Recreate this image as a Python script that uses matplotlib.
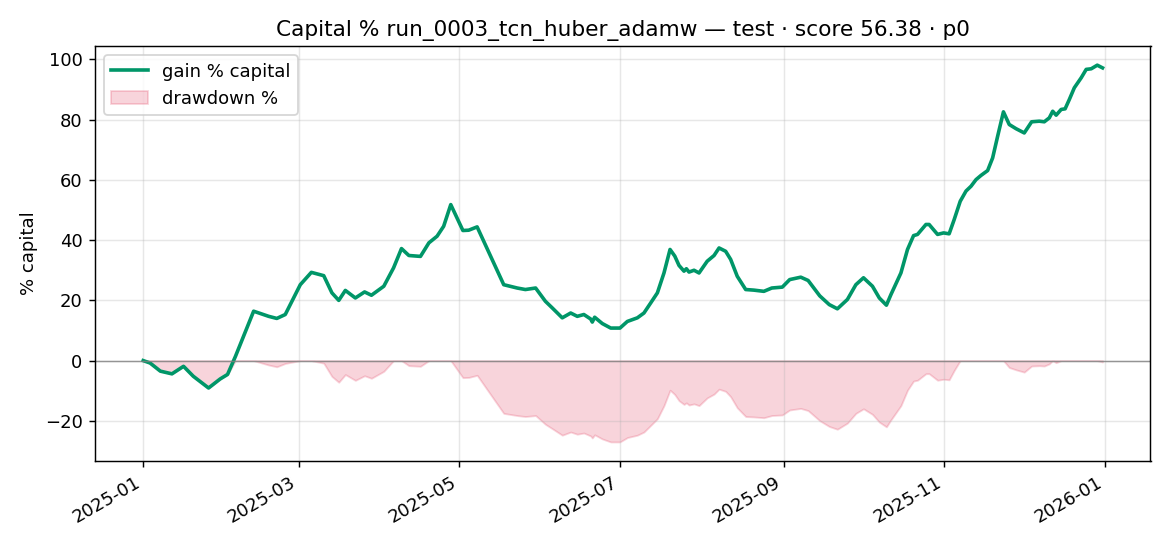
import matplotlib
matplotlib.use("Agg")
import matplotlib.pyplot as plt
import matplotlib.dates as mdates
import numpy as np
import pandas as pd

# days since 2025-01-01 and gain %
days = [0, 2.6, 6.5, 10.9, 15.3, 19, 24.8, 29.2, 32, 35, 41.9, 47.6, 50.7, 53.9,
        59.6, 63.8, 68.5, 71.6, 74.2, 76.7, 80.5, 84, 86.6, 91.3, 95, 98, 100.8,
        105.2, 108.4, 111.5, 114, 116.7, 121.3, 123.5, 126.7, 131.8, 136.8, 141.9,
        145, 148.9, 152.6, 155.2, 159, 162.2, 164.7, 167.2, 169.8, 170.4, 171.3,
        174.2, 177.4, 180.9, 183.7, 187.5, 190, 192.6, 195.1, 197.6, 199.9, 201.7,
        203.3, 205.2, 206.1, 207.1, 209, 210.9, 214, 216.6, 218.5, 221, 222.9,
        225.4, 228.6, 231.7, 235.5, 238.5, 242.5, 245.3, 249.5, 252.3, 256.7,
        260.3, 263.4, 267.2, 270.4, 273.3, 276.7, 279.3, 282, 283.7, 287.5, 290,
        292.3, 293.8, 297, 298.2, 301.4, 303.7, 305.8, 307.7, 310, 312.2, 314.1,
        316, 317.9, 320.4, 322.3, 324.2, 326.4, 328.6, 331.2, 334.3, 337.1, 340,
        341.9, 343.8, 345.1, 346.4, 348.3, 349.8, 351.4, 353.3, 355.9, 357.8,
        359.7, 362, 364]
gain = [0, -0.8, -3.5, -4.4, -1.9, -5.2, -9.1, -6.1, -4.6, 1.4, 16.4, 14.7, 14.0, 15.3,
        25.2, 29.3, 28.2, 22.5, 20.0, 23.3, 20.8, 22.8, 21.7, 24.7, 30.8, 37.2, 34.9,
        34.6, 39.1, 41.3, 44.6, 51.8, 43.2, 43.3, 44.4, 34.7, 25.2, 24.1,
        23.6, 24.1, 19.7, 17.5, 14.2, 15.8, 14.7, 15.3, 13.8, 12.8, 14.4,
        12.3, 10.8, 10.8, 13.0, 14.2, 15.8, 19.2, 22.5, 29.1, 36.9, 34.7,
        31.6, 29.7, 30.5, 29.4, 30.0, 29.1, 33.0, 34.9, 37.4, 36.3, 33.6,
        28.0, 23.6, 23.4, 23.0, 24.1, 24.4, 26.9, 27.7, 26.6, 21.5,
        18.6, 17.2, 20.3, 25.2, 27.5, 24.7, 20.8, 18.4, 21.9, 29.1, 36.9,
        41.5, 41.9, 45.2, 45.2, 41.9, 42.4, 42.1, 46.8, 52.9, 56.3, 57.9,
        60.1, 61.5, 63.1, 67.3, 74.5, 82.6, 78.4, 77.0, 75.6, 79.3, 79.5,
        79.3, 80.6, 82.8, 81.5, 83.4, 83.6, 86.7, 90.6, 93.9, 96.7,
        96.9, 98.1, 97.2]

dates = pd.Timestamp("2025-01-01") + pd.to_timedelta(days, unit="D")
g = np.array(gain)
equity = 1 + g / 100
dd = (equity / np.maximum.accumulate(np.maximum(equity, 1.0)) - 1) * 100

fig, ax = plt.subplots(figsize=(9, 4.2), dpi=130)
ax.plot(dates, g, color="#009668", lw=2, label="gain % capital")
ax.fill_between(dates, dd, 0, color="crimson", alpha=0.18, label="drawdown %")
ax.axhline(0, color="gray", lw=0.8, alpha=0.8)
ax.grid(alpha=0.3)
ax.set_ylabel("% capital")
ax.set_title("Capital % run_0003_tcn_huber_adamw — test · score 56.38 · p0")
ax.xaxis.set_major_locator(mdates.MonthLocator(bymonth=[1, 3, 5, 7, 9, 11]))
ax.xaxis.set_major_formatter(mdates.DateFormatter("%Y-%m"))
ax.legend(loc="upper left")
fig.autofmt_xdate()
plt.tight_layout()
plt.savefig("out.png")
